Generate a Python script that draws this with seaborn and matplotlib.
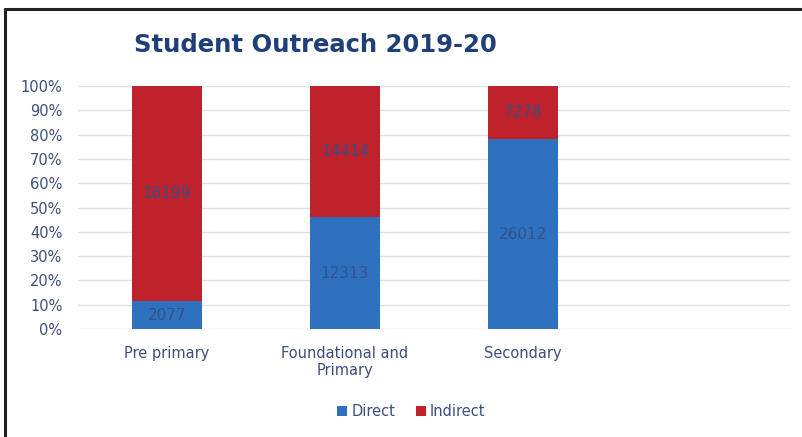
import matplotlib
matplotlib.use("Agg")
import matplotlib.pyplot as plt
import seaborn as sns
import pandas as pd
import numpy as np
from matplotlib.lines import Line2D
from matplotlib.patches import Patch

categories = ["Pre primary", "Foundational and\nPrimary", "Secondary", ""]
direct = [2077, 12313, 26012, 0]
indirect = [16199, 14414, 7278, 0]
series_names = ["Direct", "Indirect"]
yticks = [0, 10, 20, 30, 40, 50, 60, 70, 80, 90, 100]

BLUE = "#2E72BF"
RED = "#C0222B"
TXT = "#3B4E7C"
LBL = "#34508A"

sns.set_theme(style="white")
plt.rcParams["font.family"] = ["DejaVu Sans"]

tot = np.array(direct) + np.array(indirect)
with np.errstate(divide="ignore", invalid="ignore"):
    dpct = np.where(tot > 0, np.array(direct) / tot * 100, 0)
    ipct = np.where(tot > 0, 100.0, 0)

df = pd.DataFrame({"cat": categories, "direct": dpct, "total": ipct})

fig = plt.figure(figsize=(8.03, 4.37), dpi=100)
ax = fig.add_axes([0.097, 0.247, 0.887, 0.556])

sns.barplot(data=df, x="cat", y="total", color=RED, width=0.39, ax=ax,
            saturation=1, linewidth=0, zorder=3)
sns.barplot(data=df, x="cat", y="direct", color=BLUE, width=0.39, ax=ax,
            saturation=1, linewidth=0, zorder=4)

ax.set_xlim(-0.5, 3.5)
ax.set_ylim(0, 100)
ax.set_yticks(yticks)
ax.set_yticklabels([f"{v}%" for v in yticks], color=TXT, fontsize=10.5)
ax.set_xticklabels(categories, color=TXT, fontsize=10.5)
ax.tick_params(axis="x", length=0, pad=12)
ax.tick_params(axis="y", length=0, pad=11)
ax.set_xlabel("")
ax.set_ylabel("")
ax.grid(axis="y", color="#D8E2EC", linewidth=1, zorder=0)
for s in ax.spines.values():
    s.set_visible(False)

for i in range(3):
    ax.text(i, dpct[i] / 2, str(direct[i]), ha="center", va="center",
            color=LBL, fontsize=11, zorder=5)
    ax.text(i, (dpct[i] + 100) / 2, str(indirect[i]), ha="center", va="center",
            color=LBL, fontsize=11, zorder=5)

fig.text(0.393, 0.897, "Student Outreach 2019-20", ha="center", va="center",
         fontsize=17.5, fontweight="bold", color="#1F3F78")

handles = [Patch(facecolor=BLUE, edgecolor="none"), Patch(facecolor=RED, edgecolor="none")]
fig.legend(handles, series_names, loc="center", bbox_to_anchor=(0.512, 0.058),
           ncol=2, frameon=False, fontsize=10.5, labelcolor=TXT,
           handlelength=0.7, handleheight=0.7, handletextpad=0.3, columnspacing=1.4)

# frame lines
fig.add_artist(Line2D([0.0065, 0.0065], [0, 0.98], transform=fig.transFigure,
                      color="#222222", linewidth=2.2))
fig.add_artist(Line2D([0.0065, 0.998], [0.979, 0.979], transform=fig.transFigure,
                      color="#222222", linewidth=2.2))

fig.savefig("out.png", dpi=100)
